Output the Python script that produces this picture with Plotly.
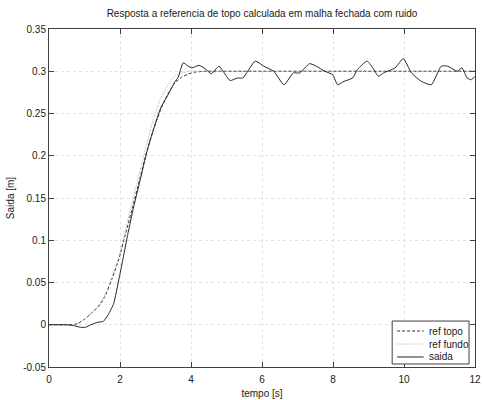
import plotly.graph_objects as go

# Top reference trajectory (ref topo)
t_topo = [0, 0.5, 0.79, 0.98, 1.18, 1.38, 1.57, 1.77, 1.97, 2.16, 2.36, 2.56,
          2.76, 2.95, 3.15, 3.35, 3.54, 3.74, 3.94, 4.13, 4.43, 5.0, 12.0]
y_topo = [0, 0, 0.001, 0.006, 0.013, 0.021, 0.033, 0.054, 0.078, 0.108, 0.140,
          0.173, 0.206, 0.232, 0.255, 0.273, 0.286, 0.293, 0.297, 0.299, 0.300,
          0.300, 0.300]

# Bottom reference trajectory (ref fundo)
t_fundo = [0, 0.5, 0.79, 0.98, 1.18, 1.38, 1.57, 1.77, 1.97, 2.16, 2.36, 2.56,
           2.76, 2.95, 3.15, 3.35, 3.54, 3.74, 3.94, 4.43, 12.0]
y_fundo = [0, 0, 0.001, 0.006, 0.013, 0.022, 0.035, 0.056, 0.081, 0.113, 0.148,
           0.182, 0.215, 0.245, 0.268, 0.284, 0.294, 0.298, 0.300, 0.300, 0.300]

# Measured output with noise (saida)
t_saida = [0, 0.49, 0.69, 0.89, 1.03, 1.18, 1.38, 1.53, 1.67, 1.82, 1.97, 2.07,
           2.2, 2.36, 2.56, 2.76, 2.95, 3.15, 3.35, 3.54, 3.64, 3.78, 3.92,
           4.03, 4.23, 4.43, 4.57, 4.79, 4.92, 5.1, 5.31, 5.46, 5.81, 6.05,
           6.33, 6.62, 6.88, 7.06, 7.34, 7.53, 7.77, 7.99, 8.13, 8.31, 8.55,
           8.69, 8.96, 9.15, 9.28, 9.42, 9.75, 9.98, 10.21, 10.49, 10.77,
           11.05, 11.23, 11.5, 11.63, 11.78, 11.9, 12.0]
y_saida = [0, 0, -0.001, -0.003, -0.003, 0.0, 0.003, 0.004, 0.012, 0.025,
           0.054, 0.075, 0.103, 0.135, 0.170, 0.205, 0.232, 0.257, 0.272,
           0.287, 0.293, 0.310, 0.306, 0.304, 0.307, 0.302, 0.297, 0.306,
           0.299, 0.289, 0.292, 0.292, 0.312, 0.306, 0.300, 0.284, 0.298,
           0.298, 0.309, 0.306, 0.300, 0.296, 0.284, 0.288, 0.292, 0.302,
           0.312, 0.302, 0.294, 0.298, 0.304, 0.315, 0.298, 0.288, 0.284,
           0.306, 0.306, 0.300, 0.304, 0.292, 0.290, 0.294]

x_ticks = [0, 2, 4, 6, 8, 10, 12]
y_ticks = [-0.05, 0, 0.05, 0.1, 0.15, 0.2, 0.25, 0.3, 0.35]
y_tick_text = ["-0.05", "0", "0.05", "0.1", "0.15", "0.2", "0.25", "0.3", "0.35"]

FONT = "Liberation Sans, Arial, Helvetica, sans-serif"
TXT = "#1a1a1a"

styles = {
    "ref topo": dict(color="#333333", width=1, dash="3px,2px"),
    "ref fundo": dict(color="#a8a8a8", width=1, dash="1px,1.5px"),
    "saida": dict(color="#262626", width=1),
}

fig = go.Figure()
fig.add_trace(go.Scatter(x=t_topo, y=y_topo, mode="lines", name="ref topo",
                         line=dict(**styles["ref topo"], shape="spline", smoothing=0.6)))
fig.add_trace(go.Scatter(x=t_fundo, y=y_fundo, mode="lines", name="ref fundo",
                         line=dict(**styles["ref fundo"], shape="spline", smoothing=0.6)))
fig.add_trace(go.Scatter(x=t_saida, y=y_saida, mode="lines", name="saida",
                         line=dict(**styles["saida"], shape="spline", smoothing=0.5)))

axis_common = dict(
    showline=True, linecolor="#404040", linewidth=1, mirror="ticks",
    ticks="inside", ticklen=5, tickcolor="#404040", tickwidth=1,
    showgrid=True, gridcolor="#e2e2e2", griddash="3px,3px", gridwidth=1,
    zeroline=False, tickfont=dict(size=10, color=TXT, family=FONT),
    ticklabeloverflow="allow",
)

fig.update_xaxes(range=[0, 12], tickvals=x_ticks, ticktext=[str(v) for v in x_ticks],
                 ticklabelstandoff=3,
                 title=dict(text="tempo [s]", font=dict(size=10, color=TXT),
                            standoff=5),
                 **axis_common)
fig.update_yaxes(range=[-0.05, 0.35], tickvals=y_ticks, ticktext=y_tick_text,
                 title=dict(text="Saida [m]", font=dict(size=10, color=TXT),
                            standoff=6),
                 **axis_common)

# Compact boxed legend in the lower-right corner of the axes
legend_rows = [("ref topo", 0.1065), ("ref fundo", 0.068), ("saida", 0.0296)]
shapes = [dict(type="rect", xref="paper", yref="paper",
               x0=0.8056, x1=0.986, y0=0.0089, y1=0.136,
               line=dict(color="#404040", width=1), fillcolor="white",
               layer="above")]
annotations = []
for name, yy in legend_rows:
    shapes.append(dict(type="line", xref="paper", yref="paper",
                       x0=0.8171, x1=0.8796, y0=yy, y1=yy,
                       line=styles[name], layer="above"))
    annotations.append(dict(xref="paper", yref="paper", x=0.8866, y=yy,
                            text=name, showarrow=False, xanchor="left",
                            yanchor="middle",
                            font=dict(size=10, color=TXT, family=FONT)))

fig.update_layout(
    width=484, height=400,
    margin=dict(l=49, r=3, t=29, b=33),
    paper_bgcolor="white", plot_bgcolor="white",
    font=dict(family=FONT, size=10, color=TXT),
    title=dict(text="Resposta a referencia de topo calculada em malha fechada com ruido",
               x=0.5, xref="paper", xanchor="center", y=0.967, yanchor="middle",
               font=dict(size=10, color=TXT)),
    showlegend=False,
    shapes=shapes,
    annotations=annotations,
)

fig.write_html("out.html")
